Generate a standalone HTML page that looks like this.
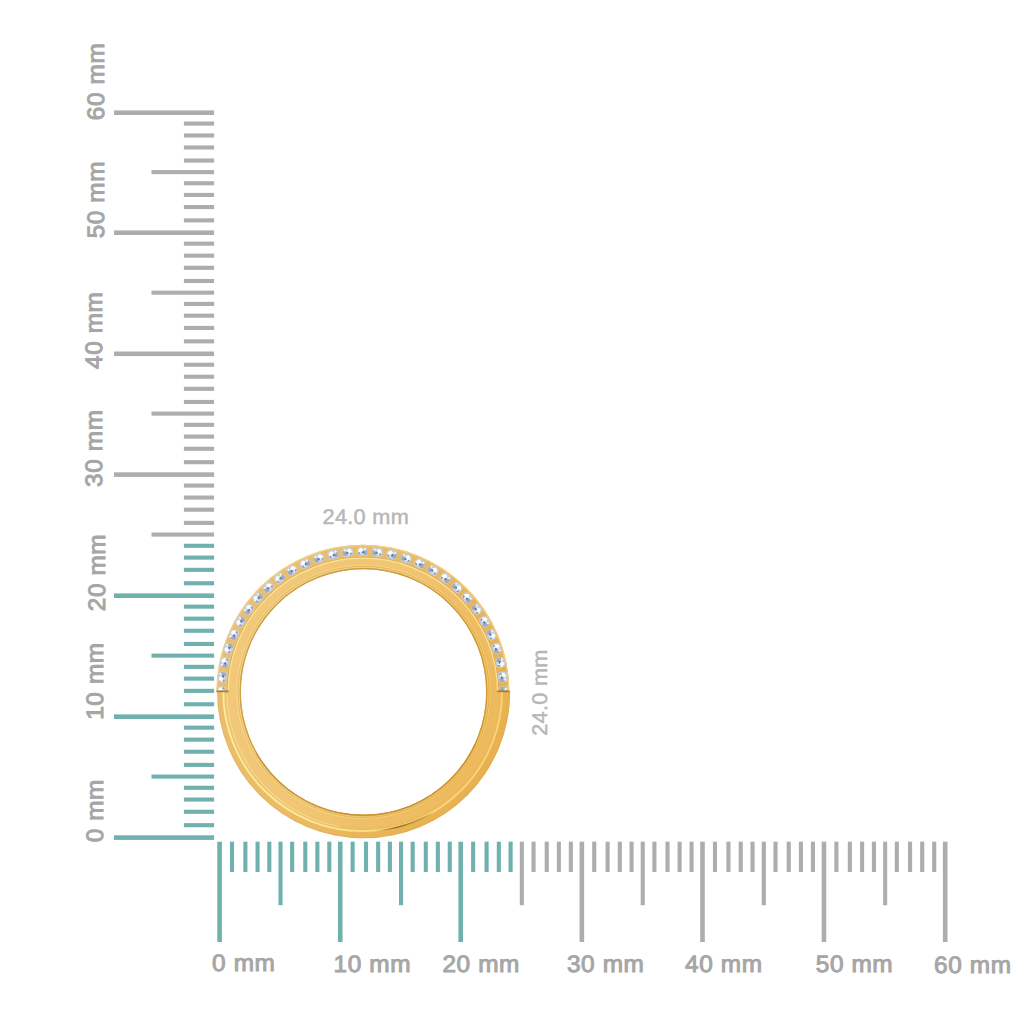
<!DOCTYPE html>
<html><head><meta charset="utf-8"><title>Ring size</title>
<style>
html,body{margin:0;padding:0;background:#fff;}
body{width:1024px;height:1024px;overflow:hidden;}
svg{display:block;}
text{font-family:"Liberation Sans",sans-serif;text-rendering:geometricPrecision;}
.l{font-size:24.4px;fill:#a6a6a6;stroke:#a6a6a6;stroke-width:1.0px;letter-spacing:0.6px;}
.d{font-size:21.7px;fill:#b7b7b7;stroke:#b7b7b7;stroke-width:0.5px;letter-spacing:0.3px;}
</style></head><body>
<svg width="1024" height="1024" viewBox="0 0 1024 1024">
<defs>
<radialGradient id="gold" gradientUnits="userSpaceOnUse" cx="363.6" cy="691.7" r="146.6"><stop offset="0.8308" stop-color="#cf9c40"/><stop offset="0.8547" stop-color="#e4b258"/><stop offset="0.8683" stop-color="#f0c36e"/><stop offset="0.9127" stop-color="#f1c572"/><stop offset="0.9400" stop-color="#eec06a"/><stop offset="0.9536" stop-color="#ebba62"/><stop offset="0.9898" stop-color="#eab960"/><stop offset="1.0000" stop-color="#dfac52"/></radialGradient>
<clipPath id="up"><rect x="200" y="530" width="330" height="160.5"/></clipPath>
<linearGradient id="dk" gradientUnits="userSpaceOnUse" x1="374" y1="0" x2="434" y2="0"><stop offset="0" stop-color="#8a6418" stop-opacity="0"/><stop offset="0.35" stop-color="#6e4e10" stop-opacity="0.9"/><stop offset="0.8" stop-color="#8a6418" stop-opacity="0.6"/><stop offset="1" stop-color="#8a6418" stop-opacity="0"/></linearGradient>
<linearGradient id="shade" gradientUnits="userSpaceOnUse" x1="217" y1="640" x2="511" y2="760"><stop offset="0" stop-color="#ffffff" stop-opacity="0.08"/><stop offset="0.35" stop-color="#ffffff" stop-opacity="0.03"/><stop offset="0.6" stop-color="#e39a22" stop-opacity="0.10"/><stop offset="1" stop-color="#e39a22" stop-opacity="0.30"/></linearGradient>
<clipPath id="rc"><rect x="200" y="691.3" width="330" height="170"/><ellipse cx="362.85" cy="691.7" rx="146.4" ry="147.0"/></clipPath>
<clipPath id="low"><rect x="200" y="692.2" width="330" height="160"/></clipPath>
<g id="dia">
<rect x="-5.4" y="-4.5" width="10.8" height="9.0" rx="3.1" fill="#c6cedb"/>
<path d="M-4.8,-0.5 L-1.5,-4 L1.8,-1.2 L-1.8,3.2 Z" fill="#f3f6fa"/>
<path d="M1.2,0.2 L4.8,-2.2 L4.9,2.6 L1.8,4 Z" fill="#a3adc2"/>
<path d="M-1.4,1.2 L1.1,-1.2 L2.4,2 Z" fill="#6f7a98"/>
<path d="M-4.8,1.5 L-2.5,0.5 L-2,3.8 Z" fill="#909bb3"/>
<circle cx="-2.2" cy="-1.7" r="1.2" fill="#ffffff"/>
<circle cx="2.9" cy="-2.3" r="0.9" fill="#ffffff"/>
</g>
</defs>
<rect width="1024" height="1024" fill="#ffffff"/>
<g shape-rendering="geometricPrecision">
<rect x="114.0" y="835.30" width="100.1" height="4.6" fill="#70b1ae"/>
<rect x="183.9" y="823.13" width="30.2" height="4.1" fill="#70b1ae"/>
<rect x="183.9" y="809.72" width="30.2" height="4.1" fill="#70b1ae"/>
<rect x="183.9" y="797.50" width="30.2" height="4.1" fill="#70b1ae"/>
<rect x="183.9" y="785.74" width="30.2" height="4.1" fill="#70b1ae"/>
<rect x="151.5" y="774.52" width="62.6" height="4.1" fill="#70b1ae"/>
<rect x="183.9" y="762.86" width="30.2" height="4.1" fill="#70b1ae"/>
<rect x="183.9" y="749.69" width="30.2" height="4.1" fill="#70b1ae"/>
<rect x="183.9" y="737.58" width="30.2" height="4.1" fill="#70b1ae"/>
<rect x="183.9" y="725.61" width="30.2" height="4.1" fill="#70b1ae"/>
<rect x="114.0" y="714.40" width="100.1" height="4.6" fill="#70b1ae"/>
<rect x="183.9" y="702.22" width="30.2" height="4.1" fill="#70b1ae"/>
<rect x="183.9" y="688.80" width="30.2" height="4.1" fill="#70b1ae"/>
<rect x="183.9" y="676.57" width="30.2" height="4.1" fill="#70b1ae"/>
<rect x="183.9" y="664.80" width="30.2" height="4.1" fill="#70b1ae"/>
<rect x="151.5" y="653.57" width="62.6" height="4.1" fill="#70b1ae"/>
<rect x="183.9" y="641.90" width="30.2" height="4.1" fill="#70b1ae"/>
<rect x="183.9" y="628.72" width="30.2" height="4.1" fill="#70b1ae"/>
<rect x="183.9" y="616.60" width="30.2" height="4.1" fill="#70b1ae"/>
<rect x="183.9" y="604.62" width="30.2" height="4.1" fill="#70b1ae"/>
<rect x="114.0" y="593.40" width="100.1" height="4.6" fill="#70b1ae"/>
<rect x="183.9" y="581.21" width="30.2" height="4.1" fill="#70b1ae"/>
<rect x="183.9" y="567.78" width="30.2" height="4.1" fill="#70b1ae"/>
<rect x="183.9" y="555.54" width="30.2" height="4.1" fill="#70b1ae"/>
<rect x="183.9" y="543.76" width="30.2" height="4.1" fill="#70b1ae"/>
<rect x="151.5" y="532.52" width="62.6" height="4.1" fill="#adadad"/>
<rect x="183.9" y="520.84" width="30.2" height="4.1" fill="#adadad"/>
<rect x="183.9" y="507.65" width="30.2" height="4.1" fill="#adadad"/>
<rect x="183.9" y="495.52" width="30.2" height="4.1" fill="#adadad"/>
<rect x="183.9" y="483.53" width="30.2" height="4.1" fill="#adadad"/>
<rect x="114.0" y="472.30" width="100.1" height="4.6" fill="#adadad"/>
<rect x="183.9" y="460.14" width="30.2" height="4.1" fill="#adadad"/>
<rect x="183.9" y="446.74" width="30.2" height="4.1" fill="#adadad"/>
<rect x="183.9" y="434.53" width="30.2" height="4.1" fill="#adadad"/>
<rect x="183.9" y="422.78" width="30.2" height="4.1" fill="#adadad"/>
<rect x="151.5" y="411.57" width="62.6" height="4.1" fill="#adadad"/>
<rect x="183.9" y="399.92" width="30.2" height="4.1" fill="#adadad"/>
<rect x="183.9" y="386.76" width="30.2" height="4.1" fill="#adadad"/>
<rect x="183.9" y="374.66" width="30.2" height="4.1" fill="#adadad"/>
<rect x="183.9" y="362.70" width="30.2" height="4.1" fill="#adadad"/>
<rect x="114.0" y="351.50" width="100.1" height="4.6" fill="#adadad"/>
<rect x="183.9" y="339.31" width="30.2" height="4.1" fill="#adadad"/>
<rect x="183.9" y="325.88" width="30.2" height="4.1" fill="#adadad"/>
<rect x="183.9" y="313.64" width="30.2" height="4.1" fill="#adadad"/>
<rect x="183.9" y="301.86" width="30.2" height="4.1" fill="#adadad"/>
<rect x="151.5" y="290.62" width="62.6" height="4.1" fill="#adadad"/>
<rect x="183.9" y="278.94" width="30.2" height="4.1" fill="#adadad"/>
<rect x="183.9" y="265.75" width="30.2" height="4.1" fill="#adadad"/>
<rect x="183.9" y="253.62" width="30.2" height="4.1" fill="#adadad"/>
<rect x="183.9" y="241.63" width="30.2" height="4.1" fill="#adadad"/>
<rect x="114.0" y="230.40" width="100.1" height="4.6" fill="#adadad"/>
<rect x="183.9" y="218.33" width="30.2" height="4.1" fill="#adadad"/>
<rect x="183.9" y="205.01" width="30.2" height="4.1" fill="#adadad"/>
<rect x="183.9" y="192.89" width="30.2" height="4.1" fill="#adadad"/>
<rect x="183.9" y="181.21" width="30.2" height="4.1" fill="#adadad"/>
<rect x="151.5" y="170.08" width="62.6" height="4.1" fill="#adadad"/>
<rect x="183.9" y="158.50" width="30.2" height="4.1" fill="#adadad"/>
<rect x="183.9" y="145.43" width="30.2" height="4.1" fill="#adadad"/>
<rect x="183.9" y="133.41" width="30.2" height="4.1" fill="#adadad"/>
<rect x="183.9" y="121.53" width="30.2" height="4.1" fill="#adadad"/>
<rect x="114.0" y="110.40" width="100.1" height="4.6" fill="#adadad"/>
<rect x="217.30" y="841.7" width="4.6" height="100.3" fill="#70b1ae"/>
<rect x="229.94" y="841.7" width="4.1" height="30.3" fill="#70b1ae"/>
<rect x="243.33" y="841.7" width="4.1" height="30.3" fill="#70b1ae"/>
<rect x="255.52" y="841.7" width="4.1" height="30.3" fill="#70b1ae"/>
<rect x="267.26" y="841.7" width="4.1" height="30.3" fill="#70b1ae"/>
<rect x="278.45" y="841.7" width="4.1" height="63.5" fill="#70b1ae"/>
<rect x="290.09" y="841.7" width="4.1" height="30.3" fill="#70b1ae"/>
<rect x="303.23" y="841.7" width="4.1" height="30.3" fill="#70b1ae"/>
<rect x="315.32" y="841.7" width="4.1" height="30.3" fill="#70b1ae"/>
<rect x="327.26" y="841.7" width="4.1" height="30.3" fill="#70b1ae"/>
<rect x="337.95" y="841.7" width="4.6" height="100.3" fill="#70b1ae"/>
<rect x="350.57" y="841.7" width="4.1" height="30.3" fill="#70b1ae"/>
<rect x="363.94" y="841.7" width="4.1" height="30.3" fill="#70b1ae"/>
<rect x="376.11" y="841.7" width="4.1" height="30.3" fill="#70b1ae"/>
<rect x="387.83" y="841.7" width="4.1" height="30.3" fill="#70b1ae"/>
<rect x="399.00" y="841.7" width="4.1" height="63.5" fill="#70b1ae"/>
<rect x="410.62" y="841.7" width="4.1" height="30.3" fill="#70b1ae"/>
<rect x="423.74" y="841.7" width="4.1" height="30.3" fill="#70b1ae"/>
<rect x="435.81" y="841.7" width="4.1" height="30.3" fill="#70b1ae"/>
<rect x="447.73" y="841.7" width="4.1" height="30.3" fill="#70b1ae"/>
<rect x="458.40" y="841.7" width="4.6" height="100.3" fill="#70b1ae"/>
<rect x="471.09" y="841.7" width="4.1" height="30.3" fill="#70b1ae"/>
<rect x="484.54" y="841.7" width="4.1" height="30.3" fill="#70b1ae"/>
<rect x="496.78" y="841.7" width="4.1" height="30.3" fill="#70b1ae"/>
<rect x="508.56" y="841.7" width="4.1" height="30.3" fill="#70b1ae"/>
<rect x="519.80" y="841.7" width="4.1" height="63.5" fill="#adadad"/>
<rect x="531.49" y="841.7" width="4.1" height="30.3" fill="#adadad"/>
<rect x="544.68" y="841.7" width="4.1" height="30.3" fill="#adadad"/>
<rect x="556.82" y="841.7" width="4.1" height="30.3" fill="#adadad"/>
<rect x="568.81" y="841.7" width="4.1" height="30.3" fill="#adadad"/>
<rect x="579.55" y="841.7" width="4.6" height="100.3" fill="#adadad"/>
<rect x="592.19" y="841.7" width="4.1" height="30.3" fill="#adadad"/>
<rect x="605.58" y="841.7" width="4.1" height="30.3" fill="#adadad"/>
<rect x="617.77" y="841.7" width="4.1" height="30.3" fill="#adadad"/>
<rect x="629.51" y="841.7" width="4.1" height="30.3" fill="#adadad"/>
<rect x="640.70" y="841.7" width="4.1" height="63.5" fill="#adadad"/>
<rect x="652.34" y="841.7" width="4.1" height="30.3" fill="#adadad"/>
<rect x="665.48" y="841.7" width="4.1" height="30.3" fill="#adadad"/>
<rect x="677.57" y="841.7" width="4.1" height="30.3" fill="#adadad"/>
<rect x="689.51" y="841.7" width="4.1" height="30.3" fill="#adadad"/>
<rect x="700.20" y="841.7" width="4.6" height="100.3" fill="#adadad"/>
<rect x="712.92" y="841.7" width="4.1" height="30.3" fill="#adadad"/>
<rect x="726.40" y="841.7" width="4.1" height="30.3" fill="#adadad"/>
<rect x="738.67" y="841.7" width="4.1" height="30.3" fill="#adadad"/>
<rect x="750.49" y="841.7" width="4.1" height="30.3" fill="#adadad"/>
<rect x="761.75" y="841.7" width="4.1" height="63.5" fill="#adadad"/>
<rect x="773.47" y="841.7" width="4.1" height="30.3" fill="#adadad"/>
<rect x="786.70" y="841.7" width="4.1" height="30.3" fill="#adadad"/>
<rect x="798.87" y="841.7" width="4.1" height="30.3" fill="#adadad"/>
<rect x="810.89" y="841.7" width="4.1" height="30.3" fill="#adadad"/>
<rect x="821.65" y="841.7" width="4.6" height="100.3" fill="#adadad"/>
<rect x="834.35" y="841.7" width="4.1" height="30.3" fill="#adadad"/>
<rect x="847.81" y="841.7" width="4.1" height="30.3" fill="#adadad"/>
<rect x="860.06" y="841.7" width="4.1" height="30.3" fill="#adadad"/>
<rect x="871.86" y="841.7" width="4.1" height="30.3" fill="#adadad"/>
<rect x="883.10" y="841.7" width="4.1" height="63.5" fill="#adadad"/>
<rect x="894.80" y="841.7" width="4.1" height="30.3" fill="#adadad"/>
<rect x="908.01" y="841.7" width="4.1" height="30.3" fill="#adadad"/>
<rect x="920.16" y="841.7" width="4.1" height="30.3" fill="#adadad"/>
<rect x="932.15" y="841.7" width="4.1" height="30.3" fill="#adadad"/>
<rect x="942.90" y="841.7" width="4.6" height="100.3" fill="#adadad"/>
</g>
<g>
<text transform="translate(212.10,971.10) scale(1,0.975)" class="l">0 mm</text>
<text transform="translate(333.60,971.60) scale(1,0.975)" class="l">10 mm</text>
<text transform="translate(442.45,972.40) scale(1,0.975)" class="l">20 mm</text>
<text transform="translate(566.95,971.60) scale(1,0.975)" class="l">30 mm</text>
<text transform="translate(685.05,971.60) scale(1,0.975)" class="l">40 mm</text>
<text transform="translate(815.75,971.60) scale(1,0.975)" class="l">50 mm</text>
<text transform="translate(934.10,972.75) scale(1,0.975)" class="l">60 mm</text>
<text transform="translate(103.35,842.35) rotate(-90) scale(1,0.975)" class="l">0 mm</text>
<text transform="translate(103.35,719.80) rotate(-90) scale(1,0.975)" class="l">10 mm</text>
<text transform="translate(105.40,611.25) rotate(-90) scale(1,0.975)" class="l">20 mm</text>
<text transform="translate(102.45,486.95) rotate(-90) scale(1,0.975)" class="l">30 mm</text>
<text transform="translate(102.20,369.00) rotate(-90) scale(1,0.975)" class="l">40 mm</text>
<text transform="translate(104.10,238.35) rotate(-90) scale(1,0.975)" class="l">50 mm</text>
<text transform="translate(104.20,120.15) rotate(-90) scale(1,0.975)" class="l">60 mm</text>
<text transform="translate(322.55,524.05) scale(1,0.975)" class="d">24.0 mm</text>
<text transform="translate(546.95,735.80) rotate(-90) scale(1,0.975)" class="d">24.0 mm</text>
</g>
<g>
<path d="M217.00,691.7 a146.6,146.6 0 1,0 293.2,0 a146.6,146.6 0 1,0 -293.2,0 Z M240.70,691.9 a122.8,122.8 0 1,0 245.6,0 a122.8,122.8 0 1,0 -245.6,0 Z" fill="url(#gold)" fill-rule="evenodd" clip-path="url(#rc)"/>
<circle cx="363.5" cy="691.9" r="123.3" fill="none" stroke="#cc9838" stroke-width="1.3"/>
<circle cx="363.5" cy="691.9" r="124.6" fill="none" stroke="#f6d98c" stroke-width="1.1" opacity="0.85"/>
<circle cx="363.5" cy="691.9" r="126.7" fill="none" stroke="#fbe59a" stroke-width="0.9" opacity="0.7"/>
<path d="M475.43,744.09 A123.5,123.5 0 0,1 256.55,753.65" fill="none" stroke="#bf8b30" stroke-width="1.5" opacity="0.55"/>
<path d="M223.29999999999998,691.7 A139.4,139.4 0 0,0 502.1,691.7" fill="none" stroke="#fde996" stroke-width="1.9"/>
<path d="M436.57,810.42 A139.4,139.4 0 0,1 370.00,831.41" fill="none" stroke="url(#dk)" stroke-width="1.3"/>
<path d="M339.84,826.42 A136.8,136.8 0 0,1 226.82,694.09" fill="none" stroke="#fbe6a0" stroke-width="1.1" opacity="0.65"/>
<path d="M216.45000000000002,691.7 A146.4,147.0 0 0,1 509.25,691.7 L497.6,691.7 A134.75,133.5 0 0,0 228.10000000000002,691.7 Z" fill="#e9b960"/>
<path d="M217.00,691.7 a146.6,146.6 0 1,0 293.2,0 a146.6,146.6 0 1,0 -293.2,0 Z M240.70,691.9 a122.8,122.8 0 1,0 245.6,0 a122.8,122.8 0 1,0 -245.6,0 Z" fill="url(#shade)" fill-rule="evenodd" clip-path="url(#rc)"/>
<path d="M227.20000000000002,691.7 A135.65,134.4 0 0,1 498.5,691.7" fill="none" stroke="#dcaa52" stroke-width="1.0"/>
<path d="M228.10000000000002,691.7 A134.75,133.5 0 0,1 497.6,691.7" fill="none" stroke="#fbe49a" stroke-width="1.2"/>
<path d="M217.05,691.7 A145.8,146.4 0 0,1 508.65,691.7" fill="none" stroke="#f4d084" stroke-width="1.3"/>
<g clip-path="url(#up)"><g transform="translate(221.60,691.70) rotate(-90) scale(-1,1)"><use href="#dia"/></g><g transform="translate(222.37,677.05) rotate(-84)"><use href="#dia"/></g><g transform="translate(224.68,662.55) rotate(-78) scale(-1,1)"><use href="#dia"/></g><g transform="translate(228.50,648.38) rotate(-72)"><use href="#dia"/></g><g transform="translate(233.78,634.68) rotate(-66) scale(-1,1)"><use href="#dia"/></g><g transform="translate(240.48,621.60) rotate(-60)"><use href="#dia"/></g><g transform="translate(248.51,609.29) rotate(-54) scale(-1,1)"><use href="#dia"/></g><g transform="translate(257.79,597.89) rotate(-48)"><use href="#dia"/></g><g transform="translate(268.22,587.51) rotate(-42) scale(-1,1)"><use href="#dia"/></g><g transform="translate(279.68,578.28) rotate(-36)"><use href="#dia"/></g><g transform="translate(292.05,570.28) rotate(-30) scale(-1,1)"><use href="#dia"/></g><g transform="translate(305.19,563.62) rotate(-24)"><use href="#dia"/></g><g transform="translate(318.96,558.36) rotate(-18) scale(-1,1)"><use href="#dia"/></g><g transform="translate(333.21,554.56) rotate(-12)"><use href="#dia"/></g><g transform="translate(347.77,552.27) rotate(-6) scale(-1,1)"><use href="#dia"/></g><g transform="translate(362.50,551.50) rotate(0)"><use href="#dia"/></g><g transform="translate(377.23,552.27) rotate(6) scale(-1,1)"><use href="#dia"/></g><g transform="translate(391.79,554.56) rotate(12)"><use href="#dia"/></g><g transform="translate(406.04,558.36) rotate(18) scale(-1,1)"><use href="#dia"/></g><g transform="translate(419.81,563.62) rotate(24)"><use href="#dia"/></g><g transform="translate(432.95,570.28) rotate(30) scale(-1,1)"><use href="#dia"/></g><g transform="translate(445.32,578.28) rotate(36)"><use href="#dia"/></g><g transform="translate(456.78,587.51) rotate(42) scale(-1,1)"><use href="#dia"/></g><g transform="translate(467.21,597.89) rotate(48)"><use href="#dia"/></g><g transform="translate(476.49,609.29) rotate(54) scale(-1,1)"><use href="#dia"/></g><g transform="translate(484.52,621.60) rotate(60)"><use href="#dia"/></g><g transform="translate(491.22,634.68) rotate(66) scale(-1,1)"><use href="#dia"/></g><g transform="translate(496.50,648.38) rotate(72)"><use href="#dia"/></g><g transform="translate(500.32,662.55) rotate(78) scale(-1,1)"><use href="#dia"/></g><g transform="translate(502.63,677.05) rotate(84)"><use href="#dia"/></g><g transform="translate(503.40,691.70) rotate(90) scale(-1,1)"><use href="#dia"/></g></g>
<rect x="216.5" y="690.5" width="12.2" height="1.7" fill="#a97c28"/>
<rect x="497.2" y="690.5" width="12.2" height="1.7" fill="#a97c28"/>
</g>
</svg>
</body></html>
